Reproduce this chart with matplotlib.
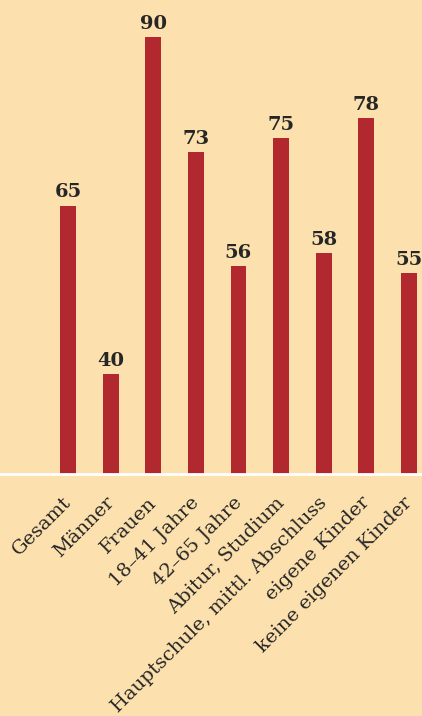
import matplotlib
matplotlib.use('Agg')
import matplotlib.pyplot as plt
from matplotlib.transforms import ScaledTranslation

categories = ['Gesamt', 'Männer', 'Frauen', '18–41 Jahre', '42–65 Jahre',
              'Abitur, Studium', 'Hauptschule, mittl. Abschluss',
              'eigene Kinder', 'keine eigenen Kinder']
values = [65, 40, 90, 73, 56, 75, 58, 78, 55]

BG = '#FCE0AD'
BAR = '#B2282F'
TXT = '#262626'

plt.rcParams['font.family'] = ['DejaVu Serif']

fig = plt.figure(figsize=(4.22, 7.16), dpi=100, facecolor=BG)
ax = fig.add_axes([0, 1 - 474 / 716, 1, 474 / 716])
ax.set_facecolor(BG)

x = list(range(len(categories)))
ax.bar(x, values, width=0.375, color=BAR, zorder=2)
for xi, v in zip(x, values):
    ax.annotate(str(v), (xi, v), xytext=(0, 3), textcoords='offset points',
                ha='center', va='bottom', fontsize=14, fontweight='bold', color=TXT)

ax.set_xlim(-1.595, 8.305)
ax.set_ylim(25.2, 95.5)
for s in ['top', 'left', 'right']:
    ax.spines[s].set_visible(False)
ax.spines['bottom'].set_color('white')
ax.spines['bottom'].set_linewidth(2)
ax.set_yticks([])
ax.set_xticks(x)
ax.set_xticklabels(categories, rotation=45, ha='right', rotation_mode='anchor',
                   fontsize=14, color=TXT)
ax.tick_params(axis='x', length=0, pad=14)
shift = ScaledTranslation(-6 / 100, 0, fig.dpi_scale_trans)
for lab in ax.get_xticklabels():
    lab.set_transform(lab.get_transform() + shift)

fig.savefig('out.png', dpi=100, facecolor=BG)
